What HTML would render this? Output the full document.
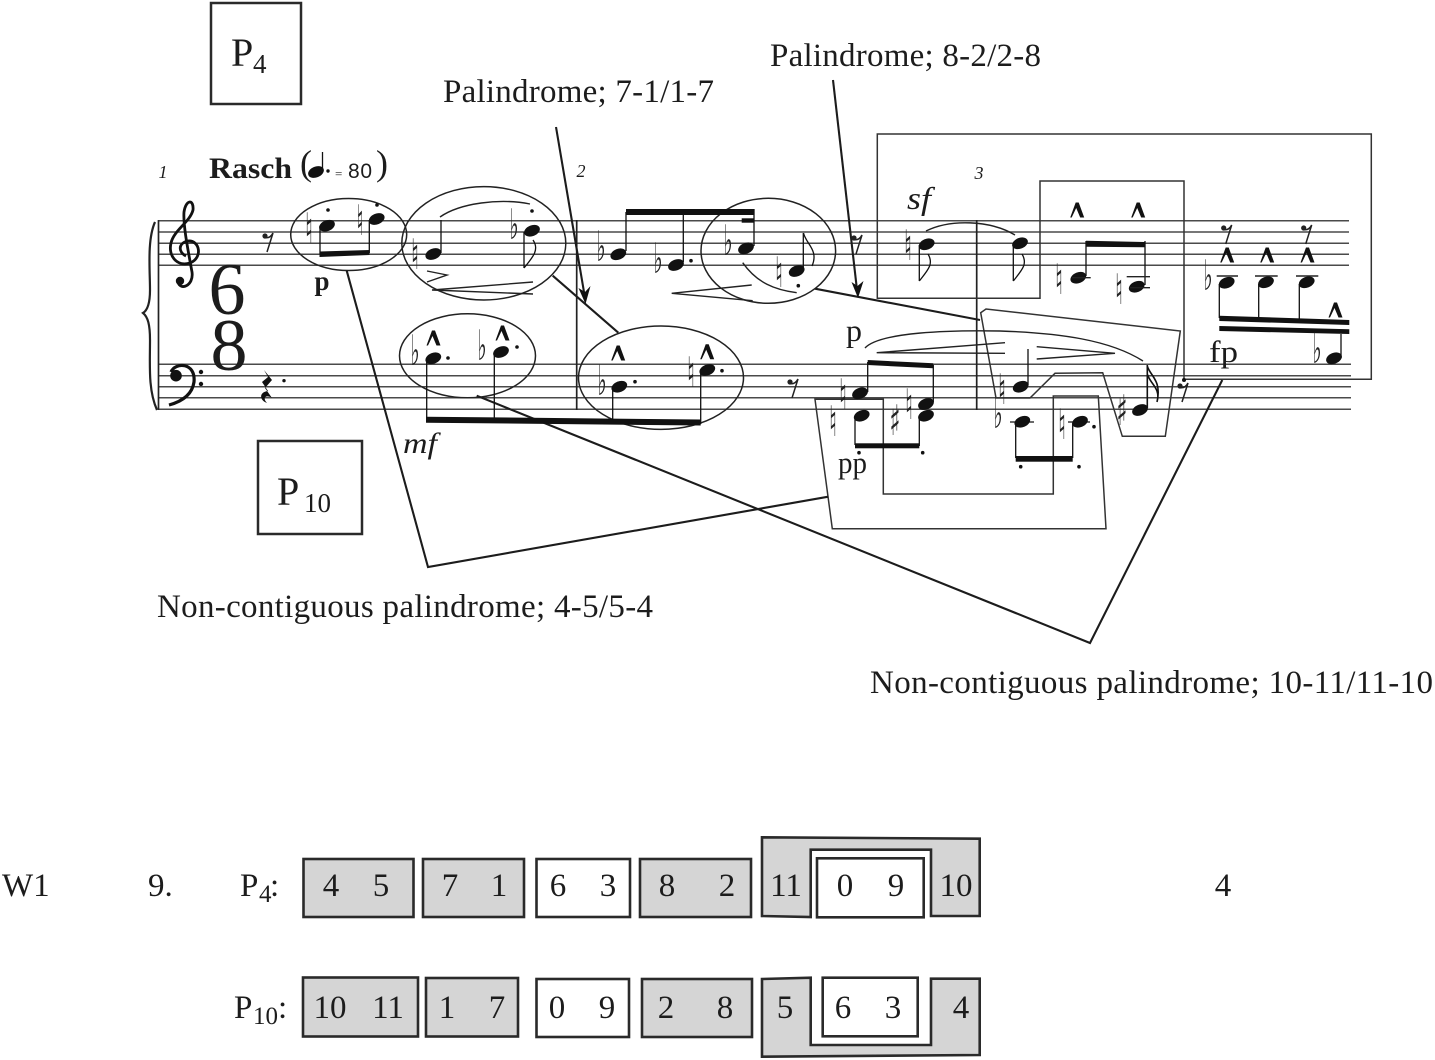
<!DOCTYPE html>
<html><head><meta charset="utf-8"><style>
html,body{margin:0;padding:0;background:#fff}
svg{display:block}
text{font-family:"Liberation Serif",serif;fill:#1c1c1c}
.l{font-size:33px}
.n{font-size:33px;text-anchor:middle}
.sub{font-size:25px}
text.acc{font-family:"DejaVu Sans",sans-serif;font-size:42px;text-anchor:middle;fill:#222}
.b{fill:#d5d5d5;stroke:#2a2a2a;stroke-width:2.6}
.w{fill:#fff;stroke:#2a2a2a;stroke-width:2.6}
.st{stroke:#4a4a4a;stroke-width:1.5}
.s{stroke:#222;stroke-width:1.5;fill:none}
.t{stroke:#333;stroke-width:1.5;fill:none}
.c{stroke:#1c1c1c;stroke-width:2.1;fill:none}
.sl{stroke:#222;stroke-width:1.4;fill:none}
</style></head><body>
<svg width="1435" height="1060" viewBox="0 0 1435 1060" xmlns="http://www.w3.org/2000/svg">
<defs>
<ellipse id="h" rx="8.2" ry="5.4" transform="rotate(-22)" fill="#111"/>
<path id="a" d="M-6.5 7.5 L-1 -7.5 L2 -7.5 L7.5 7.5 L3.5 7.5 L-.5 -2 L-5 7.5 Z" fill="#111"/>
<g id="r"><circle cx="-3" cy="-7" r="2.6" fill="#222"/><path d="M-4 -5.5 C0 -4.5 3 -6 5 -10 L-1 9" fill="none" stroke="#222" stroke-width="1.5"/></g>
</defs>

<!-- staves -->
<g class="st">
<line x1="158" y1="220.7" x2="1349" y2="220.7"/><line x1="158" y1="232" x2="1349" y2="232"/><line x1="158" y1="243.3" x2="1349" y2="243.3"/><line x1="158" y1="254.3" x2="1349" y2="254.3"/><line x1="158" y1="265.3" x2="1349" y2="265.3"/>
<line x1="158" y1="364.3" x2="1351" y2="364.3"/><line x1="158" y1="375.7" x2="1351" y2="375.7"/><line x1="158" y1="386.7" x2="1351" y2="386.7"/><line x1="158" y1="397.7" x2="1351" y2="397.7"/><line x1="158" y1="409.3" x2="1351" y2="409.3"/>
</g>
<g stroke="#222" stroke-width="1.7">
<line x1="158.5" y1="220" x2="158.5" y2="410"/><line x1="576.7" y1="220" x2="576.7" y2="410"/><line x1="976.7" y1="220" x2="976.7" y2="410"/>
</g>
<!-- brace -->
<path d="M155 222 C147 240 150 270 150 290 C150 302 148 310 143 313 C148 317 150 325 150 340 C150 365 148 390 157 410" fill="none" stroke="#222" stroke-width="2.2"/>
<!-- clefs -->
<path d="M186 256 C178 252 178 243 188 241 C200 240 203 258 190 263 C176 267 168 255 171 243 C174 230 190 222 193 210 C194 199 186 199 184 212 C183 225 188 250 192 272 C194 286 180 291 178 282" fill="none" stroke="#111" stroke-width="2.8"/>
<circle cx="180" cy="281" r="4.2" fill="#111"/>
<circle cx="176" cy="375.7" r="5.8" fill="#111"/>
<path d="M171 372 C175 362 196 362 194 382 C192 396 180 402 169 405" fill="none" stroke="#111" stroke-width="3.2"/>
<circle cx="201" cy="372" r="2.2" fill="#111"/><circle cx="201" cy="384" r="2.2" fill="#111"/>
<!-- time signature -->
<text x="227" y="314" font-size="74" text-anchor="middle">6</text>
<text x="229" y="370" font-size="74" text-anchor="middle">8</text>
<!-- tempo -->
<text x="209" y="178" font-size="30" font-weight="bold" textLength="83" lengthAdjust="spacingAndGlyphs">Rasch</text>
<text x="300" y="175" font-size="36">(</text>
<use href="#h" x="316" y="172"/><line x1="322.5" y1="171" x2="322.5" y2="152" stroke="#111" stroke-width="1.3"/><circle cx="328" cy="171" r="1.7" fill="#111"/>
<text x="335" y="178" font-size="13">=</text>
<text x="348" y="178" style="font-family:'Liberation Sans',sans-serif" font-size="21" textLength="24">80</text>
<text x="376" y="175" font-size="36">)</text>
<text x="163" y="178" font-size="18" font-style="italic" text-anchor="middle">1</text>
<text x="581" y="177" font-size="18" font-style="italic" text-anchor="middle">2</text>
<text x="979" y="179" font-size="18" font-style="italic" text-anchor="middle">3</text>

<!-- analysis frames -->
<path class="t" d="M877.3 298.3 V134 H1371.3 V379.3 H1184 V181 H1040 V298.3 Z"/>
<path class="t" d="M980.7 312.7 L986 309 L1180.3 331 L1165.3 436.3 H1122.3 L1102.7 372.7 L1055 373.3 L1030 398 H996 Z"/>
<path class="t" d="M815 399.3 L832.3 528.7 H1106 L1098.3 396 H1053.3 V494 H883.3 V399.3 Z"/>
<!-- ellipses -->
<ellipse class="s" cx="348.7" cy="234.5" rx="58" ry="36"/>
<ellipse class="s" cx="483.8" cy="243.3" rx="82" ry="56.7"/>
<ellipse class="s" cx="467.5" cy="355.8" rx="68" ry="42"/>
<ellipse class="s" cx="661" cy="377.7" rx="82.5" ry="51.7"/>
<ellipse class="s" cx="768.3" cy="250.8" rx="67.3" ry="52.5"/>
<!-- connectors -->
<path class="c" d="M346.7 270.7 L428 567 L828.3 496.7"/>
<path class="c" d="M552.7 275.7 L618.3 332.7"/>
<path class="c" d="M815 288.7 L980 320"/>
<path class="c" d="M476.7 395.7 L1090 643 L1222.3 380"/>
<path class="c" d="M556 127 L584.5 295"/>
<path d="M585.5 304 L578.5 288 L585 292 L590.5 286 Z" fill="#111"/>
<path class="c" d="M833 80 L857 290"/>
<path d="M858 298 L851.5 282 L857.5 286 L863.5 281 Z" fill="#111"/>

<!-- measure 1 treble -->
<use href="#r" x="268" y="243"/>
<use href="#h" x="327" y="225.7"/><use href="#h" x="376.7" y="219"/>
<path d="M320 226 V254 M369.3 220 V253" stroke="#111" stroke-width="1.3" fill="none"/>
<path d="M319.5 251.5 L369.5 250 V255 L319.5 257 Z" fill="#111"/>
<text class="acc" x="309" y="243" textLength="8" lengthAdjust="spacingAndGlyphs">♮</text><text class="acc" x="360" y="235" textLength="7" lengthAdjust="spacingAndGlyphs">♮</text>
<circle cx="328" cy="210" r="1.8" fill="#111"/><circle cx="377" cy="205" r="1.8" fill="#111"/>
<text x="322" y="290" font-size="27" font-weight="bold" text-anchor="middle">p</text>
<use href="#h" x="433.3" y="254"/><line x1="441" y1="220" x2="441" y2="253" stroke="#111" stroke-width="1.3"/>
<text class="acc" x="415" y="269" textLength="8" lengthAdjust="spacingAndGlyphs">♮</text>
<use href="#h" x="532" y="230.7"/>
<path d="M524 232 V268 M524 268 C532 258 540 250 533 240" stroke="#111" stroke-width="1.3" fill="none"/>
<text class="acc" x="514" y="239" textLength="9" lengthAdjust="spacingAndGlyphs">♭</text>
<circle cx="532" cy="211" r="1.8" fill="#111"/>
<path class="sl" d="M440 217 C460 203 500 198 530 204" stroke-width="1.8"/>
<path class="sl" d="M427 271 L447 275 L427 282"/>
<path class="sl" d="M533 282 L432 290 L533 294"/>

<!-- measure 1 bass -->
<path d="M264 370 L272 380 L265 388 L272 398 C266 394 262 398 267 403 C259 400 259 392 268 391 L262 382 L268 377 Z" fill="#111"/>
<circle cx="284" cy="380.7" r="1.7" fill="#111"/>
<use href="#h" x="433.3" y="358.3"/><use href="#h" x="501" y="352"/>
<path d="M426.7 358 V420 M494.3 353 V420" stroke="#111" stroke-width="1.3"/>
<path d="M426 416.7 L700.7 419.5 V425.5 L426 422.7 Z" fill="#111"/>
<text class="acc" x="415" y="365" textLength="9" lengthAdjust="spacingAndGlyphs">♭</text><text class="acc" x="482" y="360" textLength="9" lengthAdjust="spacingAndGlyphs">♭</text>
<use href="#a" x="433" y="338"/><use href="#a" x="502" y="333"/>
<circle cx="448" cy="358" r="1.8" fill="#111"/><circle cx="517" cy="347" r="1.8" fill="#111"/>
<text x="403" y="453" font-size="30" font-style="italic" textLength="34" lengthAdjust="spacingAndGlyphs">mf</text>

<!-- measure 2 treble -->
<use href="#h" x="618.3" y="254.3"/><use href="#h" x="676" y="265"/><use href="#h" x="746" y="248.3"/><use href="#h" x="796.7" y="271"/>
<path d="M626 212 V251 M683.3 212 V262 M754 209 V246 M803.3 233 V268 M803.5 233 C806 244 819 250 812 266" stroke="#111" stroke-width="1.3" fill="none"/>
<rect x="626" y="209" width="128" height="6" fill="#111"/><rect x="741.7" y="218.3" width="12.3" height="4.4" fill="#111"/>
<text class="acc" x="601" y="261" textLength="9" lengthAdjust="spacingAndGlyphs">♭</text><text class="acc" x="658" y="273" textLength="9" lengthAdjust="spacingAndGlyphs">♭</text><text class="acc" x="728" y="255" textLength="9" lengthAdjust="spacingAndGlyphs">♭</text><text class="acc" x="779" y="287" textLength="8" lengthAdjust="spacingAndGlyphs">♮</text>
<circle cx="691" cy="260.7" r="1.8" fill="#111"/><circle cx="798.3" cy="285.7" r="1.8" fill="#111"/>
<path class="sl" d="M742.7 262.7 C757 283 775 290 796.7 292.7"/>
<path class="sl" d="M751.7 285 L671.7 293.3 L752.7 300.7"/>
<use href="#r" x="857" y="245"/>
<text x="907" y="209" font-size="32" font-style="italic" textLength="24" lengthAdjust="spacingAndGlyphs">sf</text>
<use href="#h" x="926.7" y="244.3"/>
<path d="M919.3 245 V281 M919.3 281 C928 270 934 264 928 254" stroke="#111" stroke-width="1.3" fill="none"/>
<text class="acc" x="908" y="260" textLength="8" lengthAdjust="spacingAndGlyphs">♮</text>
<path class="sl" d="M926 231 C950 219 990 220 1015 235" stroke-width="1.6"/>
<use href="#h" x="1020" y="243.3"/>
<path d="M1013.3 245 V281 M1013.3 281 C1022 270 1028 264 1022 254" stroke="#111" stroke-width="1.3" fill="none"/>

<!-- measure 2 bass -->
<use href="#h" x="619.3" y="386.7"/><use href="#h" x="707.3" y="370"/>
<path d="M612.7 388 V420 M700.7 372 V424" stroke="#111" stroke-width="1.3"/>
<text class="acc" x="602" y="395" textLength="9" lengthAdjust="spacingAndGlyphs">♭</text><text class="acc" x="691" y="387" textLength="8" lengthAdjust="spacingAndGlyphs">♮</text>
<use href="#a" x="617.7" y="353"/><use href="#a" x="706.7" y="351.7"/>
<circle cx="635" cy="381.7" r="1.8" fill="#111"/><circle cx="722" cy="370.7" r="1.8" fill="#111"/>
<use href="#r" x="793" y="389"/>
<text x="854" y="341" font-size="32" text-anchor="middle">p</text>
<path class="sl" d="M865 348 C880 332 950 330 1000 331 C1060 333 1110 340 1143 361" stroke-width="1.8"/>
<path class="sl" d="M1005 342.7 L876.7 352.7 L1005 353.3"/>
<path class="sl" d="M1036.7 346.7 L1115 353.3 L1036.7 359"/>
<path d="M867.7 360 L933.3 363.3 V368.3 L867.7 365 Z" fill="#111"/>
<use href="#h" x="860" y="393.3"/><use href="#h" x="861.7" y="415.7"/><use href="#h" x="926" y="404"/><use href="#h" x="926" y="415.7"/>
<path d="M867.7 362 V392 M855 416 V445 M933.3 365 V402 M919.3 416 V446" stroke="#111" stroke-width="1.3"/>
<rect x="855" y="443.3" width="64.3" height="5" fill="#111"/>
<text class="acc" x="843" y="409" textLength="8" lengthAdjust="spacingAndGlyphs">♮</text><text class="acc" x="833" y="436" textLength="8" lengthAdjust="spacingAndGlyphs">♮</text><text class="acc" x="895" y="435" textLength="11" lengthAdjust="spacingAndGlyphs">♯</text><text class="acc" x="909" y="419" textLength="8" lengthAdjust="spacingAndGlyphs">♮</text>
<circle cx="859" cy="452.7" r="1.8" fill="#111"/><circle cx="922.7" cy="452.7" r="1.8" fill="#111"/>
<text x="838" y="473" font-size="31" textLength="29" lengthAdjust="spacingAndGlyphs">pp</text>

<!-- measure 3 treble -->
<use href="#a" x="1076.7" y="210"/><use href="#a" x="1137.7" y="210"/>
<use href="#h" x="1078.3" y="277.7"/><use href="#h" x="1136.7" y="286.7"/>
<path d="M1086 241 V276 M1145 241 V285" stroke="#111" stroke-width="1.3"/>
<path d="M1086 240.7 L1145 242 V247.3 L1086 246.7 Z" fill="#111"/>
<path d="M1071.7 277.7 H1090.7 M1126.7 276.7 H1150 M1130 287.7 H1150" stroke="#222" stroke-width="1.4"/>
<text class="acc" x="1059" y="294" textLength="8" lengthAdjust="spacingAndGlyphs">♮</text><text class="acc" x="1119" y="304" textLength="8" lengthAdjust="spacingAndGlyphs">♮</text>
<use href="#r" x="1226.7" y="235"/><use href="#r" x="1306.7" y="235"/>
<use href="#a" x="1226.7" y="255"/><use href="#a" x="1266.7" y="255"/><use href="#a" x="1307" y="255"/><use href="#a" x="1335" y="310"/>
<use href="#h" x="1226.7" y="282.7"/><use href="#h" x="1266" y="282.3"/><use href="#h" x="1306.7" y="282.3"/><use href="#h" x="1334" y="358.3"/>
<path d="M1219.3 284 V318 M1258.7 284 V318 M1299.3 284 V320 M1341 334 V358" stroke="#111" stroke-width="1.3"/>
<path d="M1216.7 276 H1238 M1255 276 H1277.7 M1296 276 H1318.3" stroke="#222" stroke-width="1.4"/>
<path d="M1219.3 315.7 L1349.3 320 V325 L1219.3 321 Z M1219.3 326 L1349.3 329.3 V334 L1219.3 331 Z" fill="#111"/>
<text class="acc" x="1208" y="290" textLength="9" lengthAdjust="spacingAndGlyphs">♭</text><text class="acc" x="1317" y="363" textLength="9" lengthAdjust="spacingAndGlyphs">♭</text>
<text x="1209" y="362" font-size="31" textLength="29" lengthAdjust="spacingAndGlyphs">fp</text>

<!-- measure 3 bass -->
<use href="#h" x="1020.7" y="386.7"/><line x1="1028" y1="349" x2="1028" y2="385" stroke="#111" stroke-width="1.3"/>
<text class="acc" x="1002" y="404" textLength="8" lengthAdjust="spacingAndGlyphs">♮</text>
<use href="#h" x="1022.3" y="421.7"/><use href="#h" x="1080" y="421.7"/>
<path d="M1015.7 423 V458 M1072.7 423 V458 M1010 422 H1034 M1068 422 H1090" stroke="#111" stroke-width="1.3"/>
<rect x="1015.7" y="456" width="57" height="5.7" fill="#111"/>
<text class="acc" x="998" y="428" textLength="9" lengthAdjust="spacingAndGlyphs">♭</text><text class="acc" x="1062" y="439" textLength="8" lengthAdjust="spacingAndGlyphs">♮</text>
<circle cx="1094" cy="426.7" r="1.8" fill="#111"/><circle cx="1020.7" cy="466.7" r="1.8" fill="#111"/><circle cx="1079" cy="466.7" r="1.8" fill="#111"/>
<use href="#h" x="1140" y="410"/>
<path d="M1147.3 365 V408 M1147.3 366 C1150 376 1162 380 1157 402 M1147.3 374 C1150 384 1161 388 1157 402" stroke="#111" stroke-width="1.6" fill="none"/>
<text class="acc" x="1122" y="425" textLength="11" lengthAdjust="spacingAndGlyphs">♯</text>
<use href="#r" x="1183" y="393"/>
<circle cx="1184" cy="380" r="2" fill="#111"/>

<!-- boxes P4 / P10 -->
<rect x="211" y="3" width="90" height="101" fill="none" stroke="#2a2a2a" stroke-width="2.5"/>
<text x="231" y="66" font-size="40">P</text><text x="253" y="73" font-size="27">4</text>
<rect x="258" y="441" width="104" height="93" fill="none" stroke="#2a2a2a" stroke-width="2.5"/>
<text x="277" y="505" font-size="40">P</text><text x="304" y="512" font-size="27">10</text>

<!-- labels -->
<text class="l" x="443" y="102" textLength="271">Palindrome; 7-1/1-7</text>
<text class="l" x="770" y="66" textLength="271">Palindrome; 8-2/2-8</text>
<text class="l" x="157" y="617" textLength="496">Non-contiguous palindrome; 4-5/5-4</text>
<text class="l" x="870" y="693" textLength="563">Non-contiguous palindrome; 10-11/11-10</text>

<!-- row 1 -->
<text class="l" x="2" y="896">W1</text>
<text class="l" x="148" y="896">9.</text>
<text class="l" x="240" y="896">P</text><text class="sub" x="259" y="902">4</text><text class="l" x="270" y="896">:</text>
<rect class="b" x="303.5" y="859" width="110" height="58"/>
<rect class="b" x="423" y="859" width="101" height="58"/>
<rect class="w" x="536.5" y="859" width="93.5" height="58"/>
<rect class="b" x="640" y="859" width="111" height="58"/>
<path class="b" d="M762 837.3 L979.7 838.7 V916 H931 V849.7 H810.7 V917 L762 916 Z"/>
<rect class="w" x="817" y="858.3" width="106.7" height="59"/>
<g>
<text class="n" x="331" y="896">4</text><text class="n" x="381" y="896">5</text>
<text class="n" x="450" y="896">7</text><text class="n" x="499" y="896">1</text>
<text class="n" x="558" y="896">6</text><text class="n" x="608" y="896">3</text>
<text class="n" x="667" y="896">8</text><text class="n" x="727" y="896">2</text>
<text class="n" x="786" y="896">11</text>
<text class="n" x="845" y="896">0</text><text class="n" x="896" y="896">9</text>
<text class="n" x="956" y="896">10</text>
<text class="n" x="1223" y="896">4</text>
</g>

<!-- row 2 -->
<text class="l" x="234" y="1018">P</text><text class="sub" x="253" y="1024">10</text><text class="l" x="278" y="1018">:</text>
<rect class="b" x="303" y="977.5" width="115" height="59"/>
<rect class="b" x="426" y="978" width="92" height="58.5"/>
<rect class="w" x="536.5" y="979" width="92.5" height="58"/>
<rect class="b" x="642" y="979" width="110" height="58"/>
<path class="b" d="M762 979 L810.7 977.7 V1045 H931 V978.7 H979.7 V1055 L762 1056.7 Z"/>
<rect class="w" x="822.7" y="977.7" width="95" height="58.6"/>
<g>
<text class="n" x="330" y="1018">10</text><text class="n" x="388" y="1018">11</text>
<text class="n" x="447" y="1018">1</text><text class="n" x="497" y="1018">7</text>
<text class="n" x="557" y="1018">0</text><text class="n" x="607" y="1018">9</text>
<text class="n" x="666" y="1018">2</text><text class="n" x="725" y="1018">8</text>
<text class="n" x="785" y="1018">5</text>
<text class="n" x="843" y="1018">6</text><text class="n" x="893" y="1018">3</text>
<text class="n" x="961" y="1018">4</text>
</g>
</svg>
</body></html>
